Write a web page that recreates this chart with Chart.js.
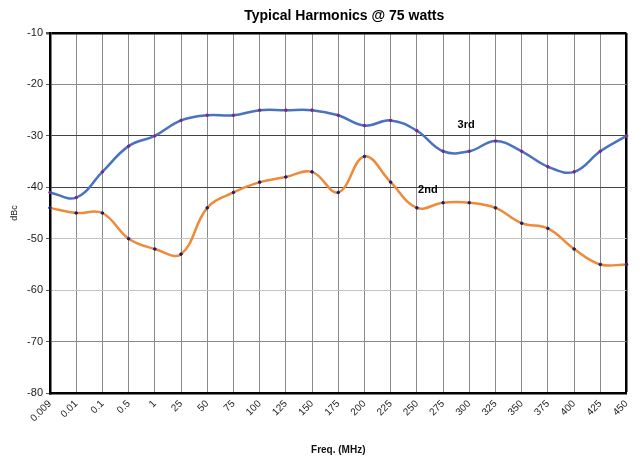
<!DOCTYPE html>
<html>
<head>
<meta charset="utf-8">
<script src="https://cdn.jsdelivr.net/npm/chart.js@4/dist/chart.umd.min.js"></script>
<style>
  html, body { margin: 0; padding: 0; background: #fff; }
  #wrap { width: 640px; height: 458px; position: relative; }
</style>
</head>
<body>
<div id="wrap"><canvas id="harmonics-chart"></canvas></div>
<script>
// categories (MHz) and values in dBc
const freqLabels = ['0.009', '0.01', '0.1', '0.5', '1', '25', '50', '75', '100', '125', '150', '175',
    '200', '225', '250', '275', '300', '325', '350', '375', '400', '425', '450'];
const third = [-41, -42, -37, -32, -30, -27, -26, -26, -25, -25, -25, -26,
    -28, -27, -29, -33, -33, -31, -33, -36, -37, -33, -30];
const second = [-44, -45, -45, -50, -52, -53, -44, -41, -39, -38, -37, -41,
    -34, -39, -44, -43, -43, -44, -47, -48, -52, -55, -55];
const yTicks = [-10, -20, -30, -40, -50, -60, -70, -80];
// series labels drawn inside the plot: [text, category index, dBc]
const seriesNotes = [['3rd', 15.88, -27.9], ['2nd', 14.42, -40.5]];

const FONT = 'Liberation Sans, Arial, sans-serif';

const gridColor = (v) => {
    if (v === -10) return '#000';
    if (v === -30 || v === -40) return '#444';
    if (v === -20 || v === -70) return '#8a8a8a';
    return '#c4c4c4';
};

const textPlugin = {
    id: 'chartText',
    afterDraw(chart) {
        const ctx = chart.ctx;
        const area = chart.chartArea;
        const xs = chart.scales.x, ys = chart.scales.y;
        ctx.save();
        ctx.fillStyle = '#000';
        ctx.textAlign = 'center';
        ctx.textBaseline = 'middle';
        ctx.font = 'bold 14px ' + FONT;
        ctx.fillText('Typical Harmonics @ 75 watts', (area.left + area.right) / 2 + 6, 16);
        ctx.font = 'bold 11px ' + FONT;
        for (const [txt, idx, val] of seriesNotes) {
            ctx.fillText(txt, xs.getPixelForValue(idx), ys.getPixelForValue(val));
        }
        ctx.restore();
    }
};

document.addEventListener('DOMContentLoaded', () => {
    const data = {
        labels: freqLabels,
        datasets: [
            {
                label: '3rd',
                data: third,
                borderColor: '#4a72c0',
                backgroundColor: '#7a2a8a',
                pointBackgroundColor: '#7a2a8a',
                pointBorderColor: '#7a2a8a',
                borderWidth: 2.5,
                pointRadius: 1.3,
                pointBorderWidth: 1,
                tension: 0.4
            },
            {
                label: '2nd',
                data: second,
                borderColor: '#ee8a3a',
                backgroundColor: '#1c1c70',
                pointBackgroundColor: '#1c1c70',
                pointBorderColor: '#1c1c70',
                borderWidth: 2.5,
                pointRadius: 1.3,
                pointBorderWidth: 1,
                tension: 0.4
            }
        ]
    };
    const options = {
        responsive: true,
        maintainAspectRatio: false,
        animation: false,
        layout: { padding: { top: 33, right: 10, left: 0, bottom: 0 } },
        plugins: {
            legend: { display: false },
            title: { display: false },
            tooltip: { enabled: false }
        },
        scales: {
            x: {
                type: 'category',
                offset: false,
                afterFit: (s) => { s.height = 65; },
                border: { display: true, color: '#000', width: 2.5 },
                grid: {
                    color: (c) => (c.index === freqLabels.length - 1 ? '#000' : '#8a8a8a'),
                    lineWidth: (c) => (c.index === freqLabels.length - 1 ? 2.5 : 1),
                    tickLength: 0,
                    drawTicks: false
                },
                ticks: {
                    autoSkip: false,
                    minRotation: 45,
                    maxRotation: 45,
                    padding: 5,
                    color: '#222',
                    font: { family: FONT, size: 10 }
                },
                title: {
                    display: true,
                    text: 'Freq. (MHz)',
                    color: '#111',
                    font: { family: FONT, size: 10, weight: 'bold' },
                    padding: { top: 2, bottom: 2 }
                }
            },
            y: {
                min: -80,
                max: -10,
                afterFit: (s) => { s.width = 50; },
                afterBuildTicks: (s) => { s.ticks = yTicks.map(v => ({ value: v })); },
                border: { display: true, color: '#000', width: 2.5 },
                grid: {
                    color: (c) => gridColor(c.tick.value),
                    lineWidth: (c) => (c.tick.value === -10 ? 2.5 : 1),
                    tickLength: 4,
                    tickColor: '#555'
                },
                ticks: {
                    padding: 3,
                    color: '#222',
                    font: { family: FONT, size: 11 }
                },
                title: {
                    display: true,
                    text: 'dBc',
                    color: '#222',
                    font: { family: FONT, size: 9 },
                    padding: { top: 9, bottom: 2 }
                }
            }
        }
    };
    new Chart('harmonics-chart', { type: 'line', data: data, options: options, plugins: [textPlugin] });
});
</script>
</body>
</html>
